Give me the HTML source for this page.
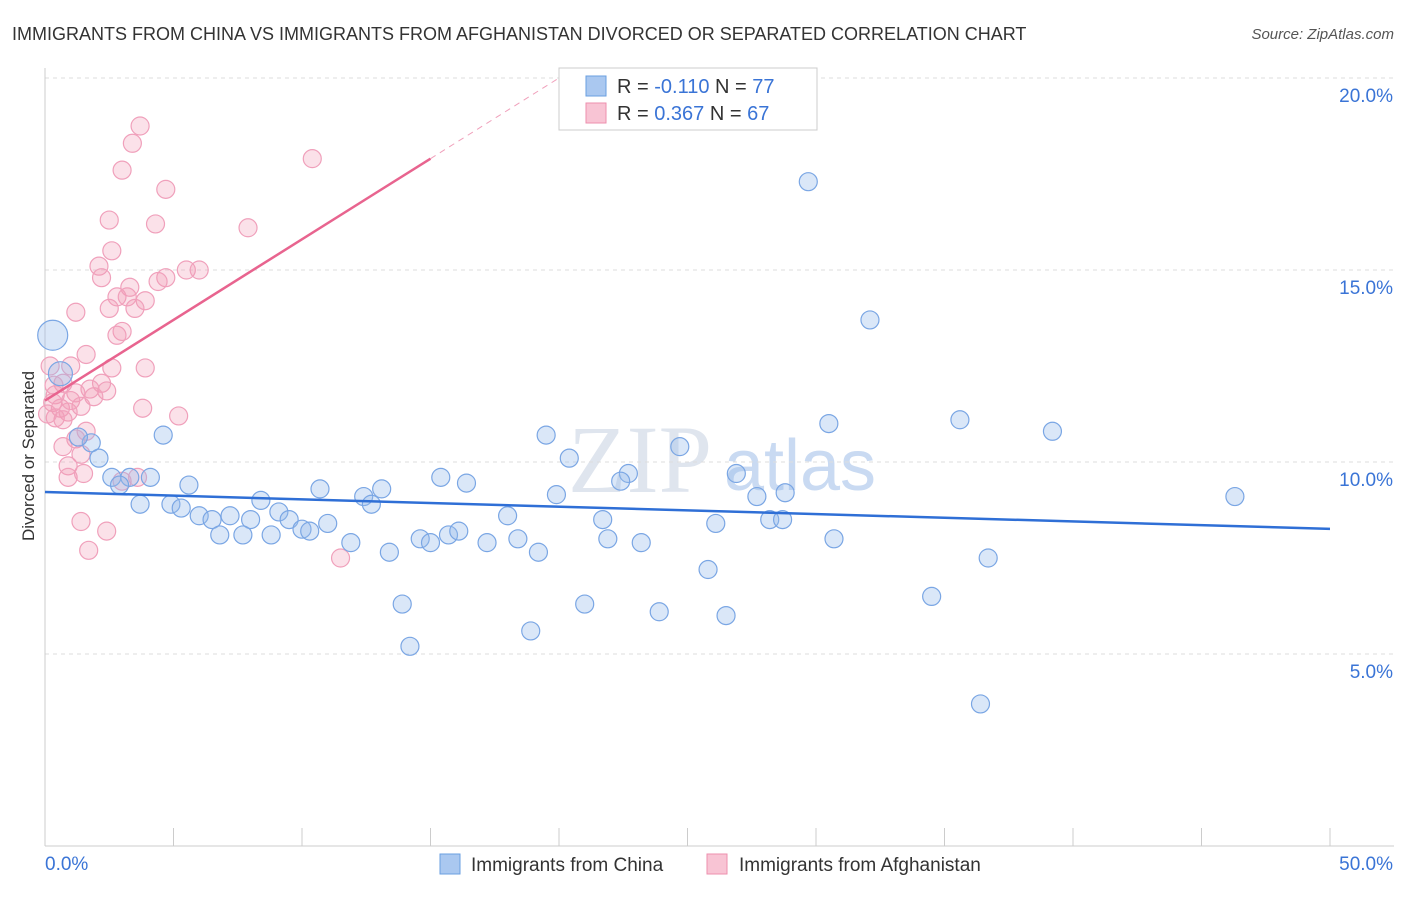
<!DOCTYPE html>
<html><head><meta charset="utf-8"><style>
body{margin:0;background:#fff;font-family:"Liberation Sans",sans-serif;}
</style></head><body>
<svg id="chart" width="1406" height="892" xmlns="http://www.w3.org/2000/svg">
<text x="12" y="40" font-size="18" fill="#333">IMMIGRANTS FROM CHINA VS IMMIGRANTS FROM AFGHANISTAN DIVORCED OR SEPARATED CORRELATION CHART</text>
<text x="1394" y="39" font-size="15" fill="#555" font-style="italic" text-anchor="end">Source: ZipAtlas.com</text>
<text x="34" y="456" font-size="17" fill="#333" text-anchor="middle" transform="rotate(-90 34 456)">Divorced or Separated</text>
<text x="640" y="492" font-size="96" fill="#dfe5ee" font-family="Liberation Serif" text-anchor="middle">ZIP</text>
<text x="800" y="490" font-size="72" fill="#c9daf2" text-anchor="middle">atlas</text>
<g id="grid"></g><g id="axes"></g><g id="pts"></g><g id="trend"></g>
<g>
<rect x="559" y="68" width="258" height="62" fill="#fff" stroke="#ccc"/>
<rect x="586" y="76" width="20" height="20" fill="#aac8f0" stroke="#6a9fe0"/>
<text x="617" y="93" font-size="20" fill="#333">R = <tspan fill="#3a74d6">-0.110</tspan>   N = <tspan fill="#3a74d6">77</tspan></text>
<rect x="586" y="103" width="20" height="20" fill="#f8c4d4" stroke="#ee8fae"/>
<text x="617" y="120" font-size="20" fill="#333">R =  <tspan fill="#3a74d6">0.367</tspan>   N = <tspan fill="#3a74d6">67</tspan></text>
</g>
<g>
<rect x="440" y="854" width="20" height="20" fill="#aac8f0" stroke="#6a9fe0"/>
<text x="471" y="871" font-size="19" fill="#333">Immigrants from China</text>
<rect x="707" y="854" width="20" height="20" fill="#f8c4d4" stroke="#ee8fae"/>
<text x="739" y="871" font-size="19" fill="#333">Immigrants from Afghanistan</text>
</g>
</svg>
<script>
const yTicks=[5,10,15,20];
const yTickLabels=["5.0%","10.0%","15.0%","20.0%"];
const xTicks=[0,5,10,15,20,25,30,35,40,45,50];
const chinaX=[29.7,32.1,0.3,0.6,30.5,35.6,39.2,19.5,4.6,1.8,1.3,24.7,2.1,20.4,22.7,15.4,26.9,22.4,16.4,2.6,3.3,4.1,2.9,5.6,46.3,27.7,28.8,19.9,12.4,13.1,10.7,8.4,12.7,4.9,5.3,3.7,9.1,6.0,7.2,6.5,8.0,9.5,11.0,10.0,10.3,6.8,7.7,8.8,11.9,14.6,15.0,15.7,16.1,17.2,18.4,18.0,21.7,21.9,23.2,26.1,28.2,28.7,30.7,13.4,19.2,36.7,25.8,13.9,21.0,23.9,26.5,34.5,18.9,14.2,36.4];
const chinaY=[17.3,13.7,13.3,12.3,11.0,11.1,10.8,10.7,10.7,10.5,10.65,10.4,10.1,10.1,9.7,9.6,9.7,9.5,9.45,9.6,9.6,9.6,9.4,9.4,9.1,9.1,9.2,9.15,9.1,9.3,9.3,9.0,8.9,8.9,8.8,8.9,8.7,8.6,8.6,8.5,8.5,8.5,8.4,8.25,8.2,8.1,8.1,8.1,7.9,8.0,7.9,8.1,8.2,7.9,8.0,8.6,8.5,8.0,7.9,8.4,8.5,8.5,8.0,7.65,7.65,7.5,7.2,6.3,6.3,6.1,6.0,6.5,5.6,5.2,3.7];
const chinaSize=[9,9,15,12];
const afgX=[3.7,3.4,10.4,3.0,4.7,2.5,4.3,7.9,2.6,2.1,5.5,6.0,4.7,2.2,4.4,3.3,2.8,3.9,3.2,2.5,3.5,1.2,3.0,2.8,1.6,0.2,3.9,2.6,1.0,0.7,2.2,1.75,2.4,1.9,1.2,0.4,0.3,0.6,1.4,0.9,3.8,5.2,0.4,0.7,1.6,1.2,0.7,1.4,0.9,0.9,1.5,3.0,3.6,1.4,2.4,1.7,11.5,0.35,1.0,0.1];
const afgY=[18.75,18.3,17.9,17.6,17.1,16.3,16.2,16.1,15.5,15.1,15.0,15.0,14.8,14.8,14.7,14.55,14.3,14.2,14.3,14.0,14.0,13.9,13.4,13.3,12.8,12.5,12.45,12.45,12.5,12.05,12.05,11.9,11.85,11.7,11.8,11.75,11.55,11.4,11.45,11.3,11.4,11.2,11.15,11.1,10.8,10.6,10.4,10.2,9.9,9.6,9.7,9.5,9.6,8.45,8.2,7.7,7.5,12.0,11.6,11.25];
const chinaTrend=[9.22,8.26];
const afgTrend=[11.6,17.9,20.0];
const afgTrendX=[0,15,20];
const X=v=>45+v/50*1285, Y=v=>846-v*38.4;
const NS="http://www.w3.org/2000/svg";
function mk(tag,attrs,parent){const e=document.createElementNS(NS,tag);for(const k in attrs)e.setAttribute(k,attrs[k]);document.getElementById(parent).appendChild(e);return e;}
yTicks.forEach((t,i)=>{
 const l=mk('line',{x1:45,x2:1394,y1:Y(t),y2:Y(t),stroke:'#ddd','stroke-dasharray':'4,4'},'grid');
 
 
 const tx=mk('text',{x:1393,y:Y(t)+24,'font-size':19,fill:'#3a74d6','text-anchor':'end'},'axes');
 tx.textContent=yTickLabels[i];
 
 
});
const ax=mk('line',{x1:45,x2:45,y1:68,y2:846,stroke:'#ccc'},'axes');


const bx=mk('line',{x1:45,x2:1394,y1:846,y2:846,stroke:'#ccc'},'axes');


xTicks.forEach(t=>{
 const l=mk('line',{x1:X(t),x2:X(t),y1:828,y2:846,stroke:'#ccc'},'axes');
 
 
});
const x0=mk('text',{x:45,y:870,'font-size':19,fill:'#3a74d6'},'axes');x0.textContent='0.0%';


const x1=mk('text',{x:1393,y:870,'font-size':19,fill:'#3a74d6','text-anchor':'end'},'axes');x1.textContent='50.0%';


afgX.forEach((v,i)=>{
 const c=mk('circle',{cx:X(v),cy:Y(afgY[i]),r:9,fill:'rgba(242,154,181,0.3)',stroke:'#f0a0bb','stroke-width':1.2},'pts');
 
 
});
chinaX.forEach((v,i)=>{
 const c=mk('circle',{cx:X(v),cy:Y(chinaY[i]),r:chinaSize[i]||9,fill:'rgba(150,185,235,0.35)',stroke:'#7aa6e4','stroke-width':1.2},'pts');
 
 
});
const bt=mk('line',{x1:X(0),y1:Y(chinaTrend[0]),x2:X(50),y2:Y(chinaTrend[1]),stroke:'#2f6fd6','stroke-width':2.5},'trend');


const pt=mk('line',{x1:X(afgTrendX[0]),y1:Y(afgTrend[0]),x2:X(afgTrendX[1]),y2:Y(afgTrend[1]),stroke:'#e8648f','stroke-width':2.5},'trend');


const pd=mk('line',{x1:X(afgTrendX[1]),y1:Y(afgTrend[1]),x2:X(afgTrendX[2]),y2:Y(afgTrend[2]),stroke:'#f0a0bb','stroke-width':1,'stroke-dasharray':'6,5'},'trend');


</script>
</body></html>
